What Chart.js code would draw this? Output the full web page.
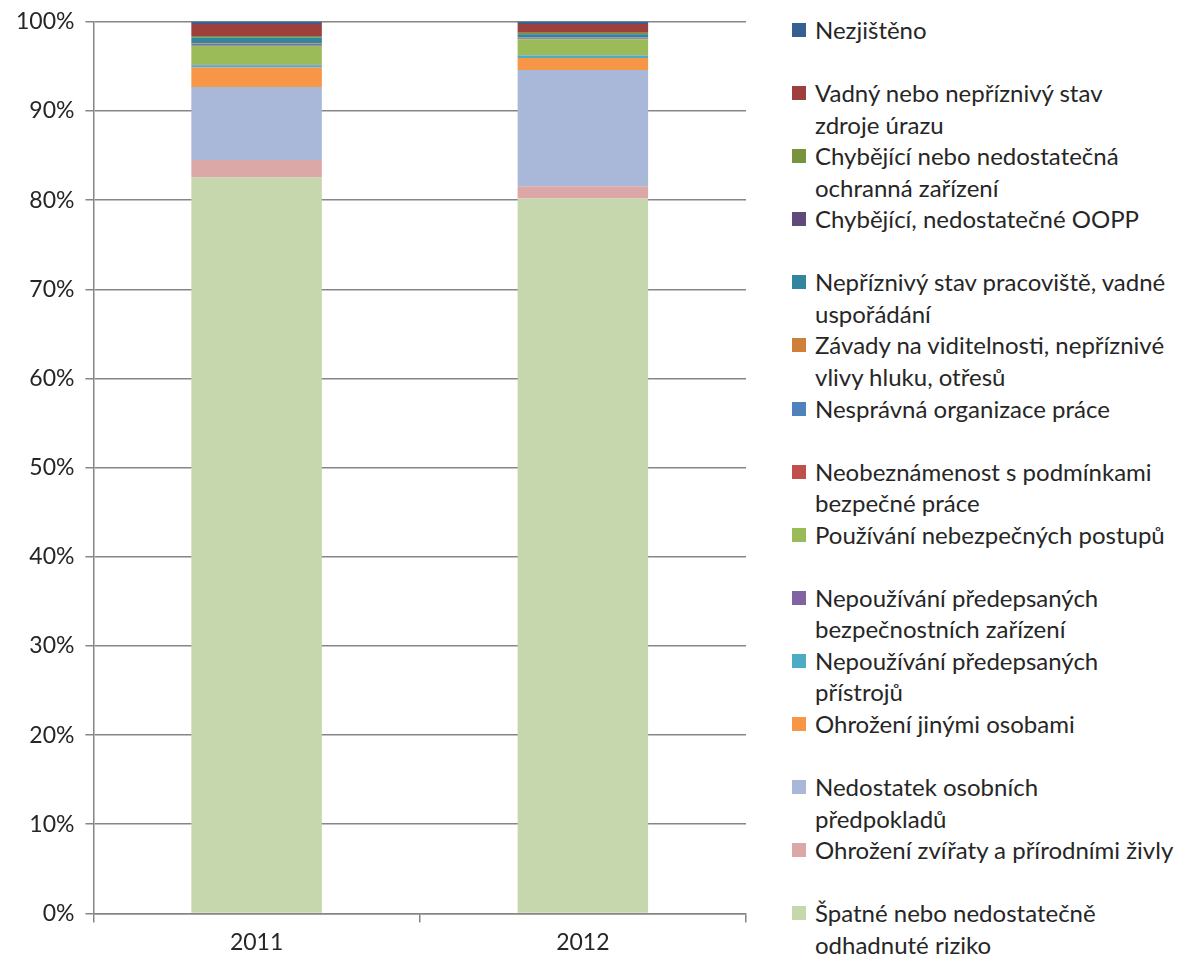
<!DOCTYPE html>
<html>
<head>
<meta charset="utf-8">
<script src="https://cdn.jsdelivr.net/npm/chart.js@4.4.0/dist/chart.umd.min.js"></script>
<style>
  body { margin: 0; background: #fff; font-family: Lato, "Open Sans", sans-serif; }
  #wrap { position: relative; width: 1194px; height: 962px; overflow: hidden; }
  #myChart { position: absolute; left: 0; top: -3px; }
  .legend { position: absolute; left: 792px; top: 14px; }
  .item { position: relative; height: 63.1px; padding-left: 23px; font-size: 24px; line-height: 31.5px; color: #262626; white-space: pre; }
  .box { position: absolute; left: 0; top: 9px; width: 14px; height: 14px; }
</style>
</head>
<body>
<div id="wrap">
  <canvas id="myChart" width="770" height="965"></canvas>
  <div class="legend" id="legend"></div>
</div>
<script>
// categories
const years = ["2011", "2012"];

// series, bottom of the stack first
const labels = [
  "Špatné nebo nedostatečně\nodhadnuté riziko",
  "Ohrožení zvířaty a přírodními živly",
  "Nedostatek osobních\npředpokladů",
  "Ohrožení jinými osobami",
  "Nepoužívání předepsaných\npřístrojů",
  "Nepoužívání předepsaných\nbezpečnostních zařízení",
  "Používání nebezpečných postupů",
  "Neobeznámenost s podmínkami\nbezpečné práce",
  "Nesprávná organizace práce",
  "Závady na viditelnosti, nepříznivé\nvlivy hluku, otřesů",
  "Nepříznivý stav pracoviště, vadné\nuspořádání",
  "Chybějící, nedostatečné OOPP",
  "Chybějící nebo nedostatečná\nochranná zařízení",
  "Vadný nebo nepříznivý stav\nzdroje úrazu",
  "Nezjištěno"
];

// share in % for 2011 and 2012
const spatne = [82.55, 80.17];
const zvirata = [1.95, 1.38];
const nedostatek = [8.2, 13.05];
const jinymi = [2.17, 1.35];
const pristroje = [0.26, 0.26];
const zarizeni = [0.05, 0.04];
const postupy = [2.1, 1.8];
const neobeznamenost = [0.05, 0.05];
const organizace = [0.2, 0.15];
const zavady = [0.08, 0.05];
const pracoviste = [0.6, 0.3];
const oopp = [0.04, 0.03];
const ochranna = [0.15, 0.15];
const vadny = [1.35, 0.97];
const nezjisteno = [0.25, 0.25];

const values = [spatne, zvirata, nedostatek, jinymi, pristroje, zarizeni, postupy,
  neobeznamenost, organizace, zavady, pracoviste, oopp, ochranna, vadny, nezjisteno];

const colors = ["#c6d7ae", "#dba8a7", "#a9b8d8", "#f79646", "#4bacc6", "#8064a2",
  "#9bbb59", "#c0504d", "#4f81bd", "#d07f38", "#31859c", "#604a7b",
  "#77933c", "#9c3f3d", "#366092"];

const yTicks = [0, 10, 20, 30, 40, 50, 60, 70, 80, 90, 100];

const axisColor = "#868686";
const textColor = "#262626";
const fontFam = "Lato, 'Open Sans', sans-serif";

let datasets = values.map((v, i) => ({
  label: labels[i],
  data: v,
  backgroundColor: colors[i],
  borderWidth: 0,
  barPercentage: 0.4,
  categoryPercentage: 1
}));

var ctx = document.getElementById("myChart");
new Chart(ctx, {
  type: "bar",
  data: { labels: years, datasets: datasets },
  options: {
    responsive: false,
    animation: false,
    layout: { padding: { top: 5, right: 24, left: 5, bottom: 0 } },
    plugins: { legend: { display: false }, tooltip: { enabled: false } },
    scales: {
      x: {
        stacked: true,
        grid: { display: true, drawOnChartArea: false, color: axisColor, lineWidth: 1.5, tickLength: 9, offset: true },
        border: { color: axisColor, width: 1.5 },
        ticks: { color: textColor, font: { family: fontFam, size: 23 }, padding: 6 }
      },
      y: {
        stacked: true,
        min: 0,
        max: 100,
        afterBuildTicks: (axis) => { axis.ticks = yTicks.map(v => ({ value: v })); },
        grid: { color: axisColor, lineWidth: 1.5, tickLength: 8 },
        border: { color: axisColor, width: 1.5 },
        ticks: { color: textColor, font: { family: fontFam, size: 23 }, padding: 11, callback: (v) => v + "%" }
      }
    }
  }
});

// legend, top of the stack first
let html = "";
for (let i = labels.length - 1; i >= 0; i--) {
  html += `<div class="item"><span class="box" style="background:${colors[i]}"></span>${labels[i]}</div>`;
}
document.getElementById("legend").innerHTML = html;
</script>
</body>
</html>
